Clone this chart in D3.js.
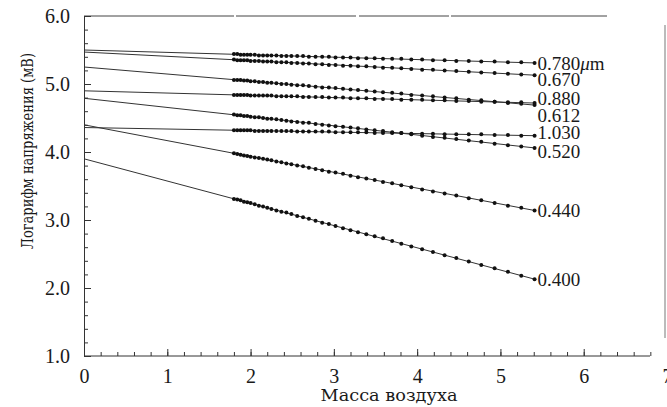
<!DOCTYPE html>
<html>
<head>
<meta charset="utf-8">
<script src="https://cdn.jsdelivr.net/npm/d3@7"></script>
<style>
  body { margin: 0; background: #fff; }
  svg { display: block; }
</style>
</head>
<body>
<div id="chart"></div>
<script>
// air mass of each observation (shared by all channels)
var airMass = [1.80, 1.84, 1.88, 1.92, 1.96, 2.00, 2.05, 2.10, 2.15, 2.20,
               2.25, 2.31, 2.37, 2.43, 2.49, 2.56, 2.63, 2.70, 2.78, 2.86,
               2.94, 3.02, 3.11, 3.20, 3.29, 3.39, 3.49, 3.59, 3.70, 3.81,
               3.93, 4.06, 4.19, 4.33, 4.47, 4.62, 4.77, 4.93, 5.09, 5.25, 5.41];

var wavelengths = ["0.780", "0.670", "0.880", "0.612", "1.030", "0.520", "0.440", "0.400"];

// log voltage extrapolated to zero air mass
var intercepts = [5.50, 5.47, 4.90, 5.25, 4.36, 4.79, 4.40, 3.90];

var v0780 = [5.44, 5.44, 5.43, 5.43, 5.43, 5.43, 5.43, 5.42, 5.42, 5.42,
             5.42, 5.42, 5.41, 5.41, 5.41, 5.41, 5.41, 5.40, 5.40, 5.40,
             5.40, 5.39, 5.39, 5.39, 5.38, 5.38, 5.38, 5.37, 5.37, 5.37,
             5.36, 5.36, 5.35, 5.35, 5.34, 5.34, 5.33, 5.33, 5.32, 5.32, 5.31];
var v0670 = [5.36, 5.35, 5.35, 5.35, 5.35, 5.34, 5.34, 5.34, 5.33, 5.33,
             5.33, 5.32, 5.32, 5.32, 5.31, 5.31, 5.30, 5.30, 5.29, 5.29,
             5.28, 5.28, 5.27, 5.27, 5.26, 5.26, 5.25, 5.24, 5.24, 5.23,
             5.22, 5.21, 5.21, 5.20, 5.19, 5.18, 5.17, 5.16, 5.15, 5.14, 5.13];
var v0880 = [4.84, 4.84, 4.84, 4.84, 4.84, 4.83, 4.83, 4.83, 4.83, 4.83,
             4.83, 4.82, 4.82, 4.82, 4.82, 4.82, 4.81, 4.81, 4.81, 4.81,
             4.80, 4.80, 4.80, 4.79, 4.79, 4.79, 4.78, 4.78, 4.78, 4.77,
             4.77, 4.77, 4.76, 4.76, 4.75, 4.75, 4.74, 4.74, 4.73, 4.73, 4.72];
var v0612 = [5.06, 5.06, 5.06, 5.05, 5.05, 5.04, 5.04, 5.03, 5.03, 5.02,
             5.02, 5.01, 5.00, 5.00, 4.99, 4.98, 4.98, 4.97, 4.96, 4.95,
             4.95, 4.94, 4.93, 4.92, 4.91, 4.90, 4.89, 4.88, 4.87, 4.86,
             4.84, 4.83, 4.82, 4.80, 4.79, 4.77, 4.76, 4.74, 4.72, 4.71, 4.69];
var v1030 = [4.32, 4.32, 4.32, 4.32, 4.32, 4.32, 4.31, 4.31, 4.31, 4.31,
             4.31, 4.31, 4.31, 4.31, 4.31, 4.30, 4.30, 4.30, 4.30, 4.30,
             4.30, 4.29, 4.29, 4.29, 4.29, 4.29, 4.28, 4.28, 4.28, 4.28,
             4.27, 4.27, 4.27, 4.26, 4.26, 4.26, 4.26, 4.25, 4.25, 4.24, 4.24];
var v0520 = [4.55, 4.54, 4.54, 4.53, 4.53, 4.52, 4.51, 4.51, 4.50, 4.49,
             4.49, 4.48, 4.47, 4.46, 4.45, 4.44, 4.43, 4.43, 4.41, 4.40,
             4.39, 4.38, 4.37, 4.36, 4.35, 4.33, 4.32, 4.31, 4.29, 4.28,
             4.26, 4.24, 4.22, 4.21, 4.19, 4.17, 4.15, 4.12, 4.10, 4.08, 4.06];
var v0440 = [3.98, 3.97, 3.96, 3.95, 3.94, 3.93, 3.92, 3.91, 3.90, 3.89,
             3.88, 3.86, 3.85, 3.83, 3.82, 3.80, 3.79, 3.77, 3.75, 3.73,
             3.71, 3.70, 3.68, 3.65, 3.63, 3.61, 3.59, 3.56, 3.54, 3.51,
             3.48, 3.45, 3.42, 3.39, 3.36, 3.32, 3.29, 3.25, 3.21, 3.18, 3.14];
var v0400 = [3.31, 3.30, 3.29, 3.27, 3.26, 3.25, 3.23, 3.21, 3.20, 3.18,
             3.16, 3.14, 3.12, 3.11, 3.09, 3.06, 3.04, 3.02, 2.99, 2.96,
             2.94, 2.91, 2.88, 2.85, 2.82, 2.79, 2.76, 2.73, 2.69, 2.65,
             2.61, 2.57, 2.53, 2.48, 2.44, 2.39, 2.34, 2.29, 2.24, 2.18, 2.13];

var series = [v0780, v0670, v0880, v0612, v1030, v0520, v0440, v0400];

var xTicks = [0, 1, 2, 3, 4, 5, 6, 7];
var yTicks = [1, 2, 3, 4, 5, 6];

// layout
var width = 667, height = 407;
var plotLeft = 84, plotRight = 667, plotTop = 16, plotBottom = 356;
var serif = "'Liberation Serif', 'Times New Roman', Times, serif";
var slab = "'DejaVu Serif', serif";
// vertical nudge of labels so the stacked ones don't collide
var labelNudge = [0, 4, -5, 10, -3, 3, 0, 0];

var svg = d3.select("#chart").append("svg")
    .attr("width", width)
    .attr("height", height);

var x = d3.scaleLinear().domain([0, 7]).range([plotLeft, plotRight]);
var y = d3.scaleLinear().domain([1, 6]).range([plotBottom, plotTop]);

// frame remnants from the scan
svg.append("line")
    .attr("x1", x(0)).attr("x2", 607)
    .attr("y1", y(6)).attr("y2", y(6))
    .attr("stroke", "#444").attr("stroke-width", 1)
    .attr("stroke-dasharray", "150,2,120,3,90,2,160,3");
svg.append("line")
    .attr("x1", 665).attr("x2", 665)
    .attr("y1", 25).attr("y2", 338)
    .attr("stroke", "#bbb").attr("stroke-width", 2);

// minor ticks
svg.append("g")
    .attr("transform", "translate(0," + plotBottom + ")")
    .call(d3.axisBottom(x).tickValues(d3.range(0, 7.01, 0.2)).tickSize(-4).tickFormat(""))
    .call(function(g) { g.select(".domain").remove(); })
    .selectAll("line").attr("stroke", "#333");
svg.append("g")
    .attr("transform", "translate(" + plotLeft + ",0)")
    .call(d3.axisLeft(y).tickValues(d3.range(1, 6.01, 0.2)).tickSize(-4).tickFormat(""))
    .call(function(g) { g.select(".domain").remove(); })
    .selectAll("line").attr("stroke", "#333");

// major axes
var xAxis = svg.append("g")
    .attr("transform", "translate(0," + plotBottom + ")")
    .call(d3.axisBottom(x).tickValues(xTicks).tickSizeInner(-7).tickSizeOuter(0).tickPadding(13).tickFormat(d3.format("d")))
    .attr("font-family", serif)
    .attr("font-size", 20);
xAxis.select(".domain").attr("d", "M" + x(0) + ",0H650").attr("stroke", "#333");
xAxis.selectAll("line").attr("stroke", "#333");
xAxis.selectAll("text").attr("fill", "#1a1a1a");

var yAxis = svg.append("g")
    .attr("transform", "translate(" + plotLeft + ",0)")
    .call(d3.axisLeft(y).tickValues(yTicks).tickSizeInner(-7).tickSizeOuter(0).tickPadding(14).tickFormat(d3.format(".1f")))
    .attr("font-family", serif)
    .attr("font-size", 20);
yAxis.select(".domain").attr("stroke", "#333");
yAxis.selectAll("line").attr("stroke", "#333");
yAxis.selectAll("text").attr("fill", "#1a1a1a");

// axis titles
svg.append("text")
    .attr("x", 389).attr("y", 401)
    .attr("font-family", slab).attr("font-size", 17).attr("fill", "#1a1a1a")
    .attr("text-anchor", "middle")
    .attr("textLength", 137)
    .attr("lengthAdjust", "spacingAndGlyphs")
    .text("Масса воздуха");
svg.append("text")
    .attr("transform", "translate(33,151) rotate(-90)")
    .attr("font-family", slab).attr("font-size", 17).attr("fill", "#1a1a1a")
    .attr("text-anchor", "middle")
    .attr("textLength", 196)
    .attr("lengthAdjust", "spacingAndGlyphs")
    .text("Логарифм напряжения (мВ)");

// fit lines extrapolated to zero air mass
var last = airMass.length - 1;
svg.append("g").selectAll("line")
    .data(series)
    .enter().append("line")
    .attr("x1", x(0))
    .attr("y1", function(d, i) { return y(intercepts[i]); })
    .attr("x2", x(airMass[last]))
    .attr("y2", function(d) { return y(d[last]); })
    .attr("stroke", "#333")
    .attr("stroke-width", 1);

// measured points
series.forEach(function(vals) {
    svg.append("g").selectAll("circle")
        .data(vals)
        .enter().append("circle")
        .attr("cx", function(d, j) { return x(airMass[j]); })
        .attr("cy", function(d) { return y(d); })
        .attr("r", 2)
        .attr("fill", "#111");
});

// wavelength labels
var labels = svg.append("g")
    .attr("font-family", serif)
    .attr("font-size", 19)
    .attr("fill", "#1a1a1a")
    .selectAll("text")
    .data(series)
    .enter().append("text")
    .attr("x", x(airMass[last]) + 3)
    .attr("y", function(d, i) { return y(d[last]) + labelNudge[i]; })
    .attr("dy", "0.35em")
    .text(function(d, i) { return wavelengths[i]; });
labels.filter(function(d, i) { return i === 0; })
    .append("tspan").attr("font-style", "italic").text("μ")
    .select(function() { return this.parentNode; })
    .append("tspan").text("m");
</script>
</body>
</html>
